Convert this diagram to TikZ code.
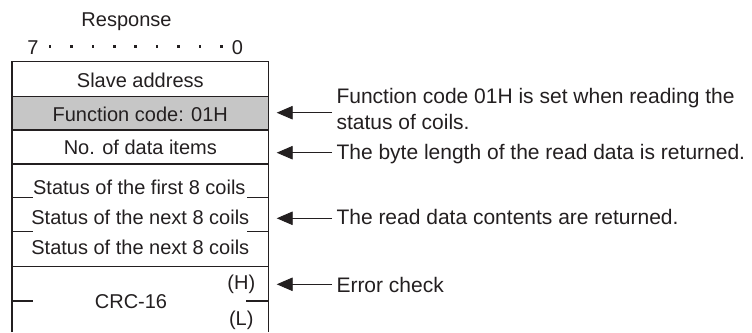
\documentclass[tikz,border=0pt]{standalone}
\usepackage{fontspec}
\setmainfont{Liberation Sans}
\usetikzlibrary{arrows.meta}
\definecolor{ink}{RGB}{35,31,32}
\definecolor{cellgray}{RGB}{198,198,198}
\begin{document}
\begin{tikzpicture}[x=1pt,y=-1pt,
  every node/.style={inner sep=0pt, outer sep=0pt, text=ink},
  txt/.style={font=\fontsize{20}{24}\selectfont},
  notetxt/.style={font=\fontsize{21}{25.7}\selectfont},
  celltext/.style={txt, anchor=base},
  note/.style={notetxt, anchor=base west, align=left},
  boxline/.style={draw=ink, line width=1.1pt},
  dotmark/.style={fill=ink, draw=none},
  arr/.style={draw=ink, line width=0.9pt, -{Triangle[length=16pt,width=13.5pt]}}
]
\useasboundingbox (0,0) rectangle (752,332);

% header
\node[celltext] (resp) at (126.5,26.5) {Response};
\node[celltext] (bit7) at (33,54) {7};
\node[celltext] (bit0) at (237.5,54) {0};
\foreach \k in {0,...,8} {
  \fill[dotmark] ({50+21.4*\k-1.3},45.4) rectangle ++(2.6,2.6);
}

% gray fill for function code row
\fill[cellgray] (12,96.7) rectangle (268.7,130);

% box outline
\draw[boxline] (12,332) -- (12,61.7) -- (268.7,61.7) -- (268.7,332);
\draw[boxline] (12,96.7) -- (268.7,96.7);
\draw[boxline] (12,130) -- (268.7,130);
\draw[boxline] (12,164) -- (268.7,164);
\draw[boxline] (12,266.7) -- (268.7,266.7);
% partial separators
\draw[boxline] (12,197.7) -- (33,197.7);
\draw[boxline] (247,197.7) -- (268.7,197.7);
\draw[boxline] (12,231.7) -- (33,231.7);
\draw[boxline] (247,231.7) -- (268.7,231.7);
\draw[boxline] (12,301) -- (33,301);
\draw[boxline] (246,301) -- (268.7,301);

% cell texts
\node[celltext] (sa)  at (140.3,87.3)  {Slave address};
\node[celltext] (fc)  at (140.3,121.9) {Function code: 01H};
\node[celltext] (nd)  at (140.3,154)   {No. of data items};
\node[celltext] (st1) at (139.3,194)   {Status of the first 8 coils};
\node[celltext] (st2) at (140.3,224)   {Status of the next 8 coils};
\node[celltext] (st3) at (140.3,254.3) {Status of the next 8 coils};
\node[celltext] (crc) at (131,308.3)   {CRC-16};
\node[celltext] (hi)  at (241.3,289.5) {(H)};
\node[celltext] (lo)  at (241.3,325)   {(L)};

% notes (base anchor = baseline of last line)
\node[note] (n1) at (336.5,129)   {Function code 01H is set when reading the\\status of coils.};
\node[note] (n2) at (336.5,159)   {The byte length of the read data is returned.};
\node[note] (n3) at (336.5,224.8) {The read data contents are returned.};
\node[note] (n4) at (336.5,292.7) {Error check};

% arrow end points
\coordinate (s1) at (332,112.7);   \coordinate (t1) at (276.7,112.7);
\coordinate (s2) at (332,152.7);   \coordinate (t2) at (276.7,152.7);
\coordinate (s3) at (332,218.3);   \coordinate (t3) at (276.7,218.3);
\coordinate (s4) at (332,284.3);   \coordinate (t4) at (276.7,284.3);
\draw[arr] (s1) -- (t1);
\draw[arr] (s2) -- (t2);
\draw[arr] (s3) -- (t3);
\draw[arr] (s4) -- (t4);
\end{tikzpicture}
\end{document}
